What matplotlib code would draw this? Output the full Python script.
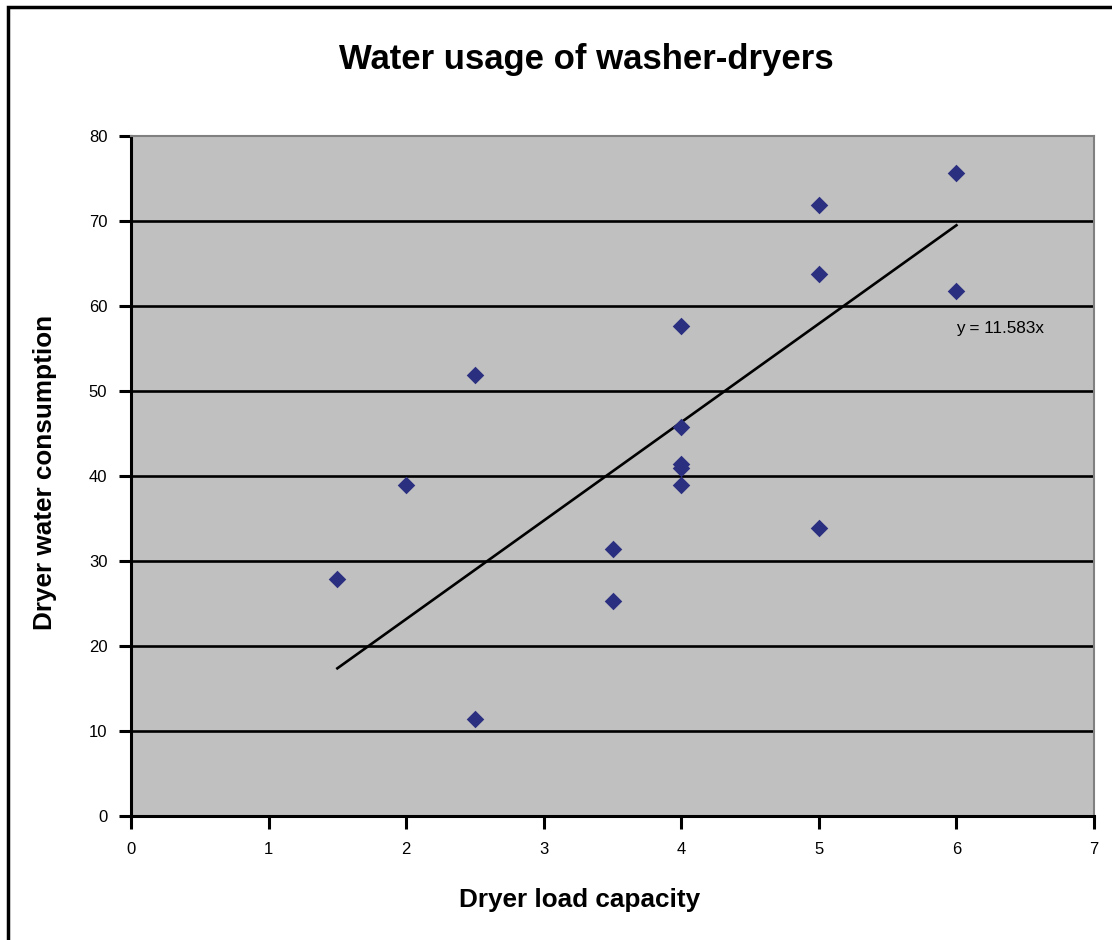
import matplotlib
matplotlib.use("Agg")
from matplotlib import pyplot as plt
from matplotlib.patches import Rectangle
import numpy as np

# load capacity vs water consumption
load = [1.5, 2, 2.5, 2.5, 3.5, 3.5, 4, 4, 4, 4, 4, 5, 5, 5, 6, 6]
water = [27.9, 38.9, 51.9, 11.4, 31.4, 25.3, 57.6, 45.8, 41.4, 40.9, 38.9, 71.9, 63.8, 33.9, 75.7, 61.8]
slope = 11.583
x_ticks = [0, 1, 2, 3, 4, 5, 6, 7]
y_ticks = [0, 10, 20, 30, 40, 50, 60, 70, 80]

plt.rcParams['font.family'] = ['Liberation Sans', 'DejaVu Sans']

fig = plt.figure(figsize=(11.12, 9.4), dpi=100)
fig.patches.append(Rectangle((8/1112, -0.1), 1.2, (940-7)/940 + 0.1, transform=fig.transFigure,
                             fill=False, edgecolor='black', linewidth=2.5))

ax = fig.add_axes([131/1112, 124/940, 963/1112, 680/940])
ax.set_facecolor('#c0c0c0')
ax.set_xlim(0, 7)
ax.set_ylim(0, 80)
ax.set_xticks(x_ticks)
ax.set_yticks(y_ticks)
ax.tick_params(axis='both', direction='out', length=9, width=2.2, labelsize=12, colors='black', pad=10)
ax.tick_params(axis='y', pad=8)
for v in y_ticks[1:-1]:
    ax.axhline(v, color='black', linewidth=1.9, zorder=1)
for s in ['left', 'bottom']:
    ax.spines[s].set_linewidth(2.2)
    ax.spines[s].set_color('black')
for s in ['top', 'right']:
    ax.spines[s].set_linewidth(1.5)
    ax.spines[s].set_color('#808080')

xl = np.array([min(load), max(load)])
ax.plot(xl, slope * xl, color='black', linewidth=1.9, zorder=2)
ax.scatter(load, water, marker='D', s=80, color='#2b2f7f', zorder=3, linewidths=0)
ax.text(6.0, 57.4, 'y = 11.583x', fontsize=12.3, va='center', ha='left')

fig.text(586/1112, 1 - 60/940, 'Water usage of washer-dryers', fontsize=25, fontweight='bold',
         ha='center', va='center')
fig.text(580/1112, 1 - 900/940, 'Dryer load capacity', fontsize=18.8, fontweight='bold',
         ha='center', va='center')
fig.text(45/1112, 1 - 472/940, 'Dryer water consumption', fontsize=18.8, fontweight='bold',
         ha='center', va='center', rotation=90)

fig.savefig('out.png', dpi=100)
